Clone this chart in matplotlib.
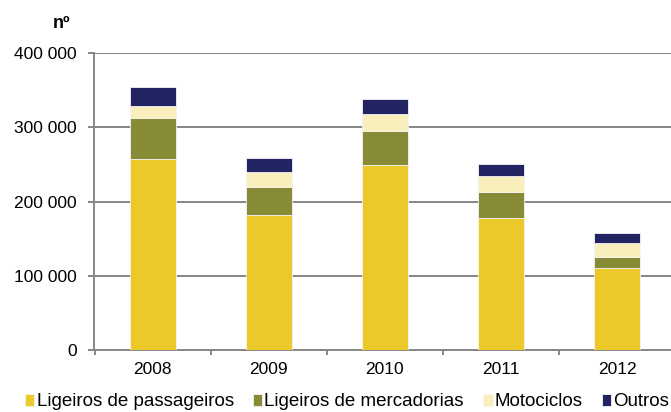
import numpy as np
import matplotlib.pyplot as plt
from matplotlib.ticker import FuncFormatter, FixedLocator

plt.rcParams['font.family'] = ['Liberation Sans', 'DejaVu Sans']

anos = ['2008', '2009', '2010', '2011', '2012']
passageiros = [257800, 181500, 249000, 178000, 111000]
mercadorias = [55200, 38200, 46000, 35000, 14700]
motociclos = [16000, 20200, 23500, 22000, 19000]
outros = [25800, 18900, 20500, 16000, 13300]

series = [
    ('Ligeiros de passageiros', passageiros, '#ecc92b'),
    ('Ligeiros de mercadorias', mercadorias, '#878b36'),
    ('Motociclos', motociclos, '#f8efbc'),
    ('Outros', outros, '#222362'),
]

fig = plt.figure(figsize=(6.71, 4.12), dpi=100)
ax = fig.add_axes([94.5 / 671, 1 - 350 / 412, (675 - 94.5) / 671, (350 - 53.3) / 412])

x = np.arange(len(anos))
base = np.zeros(len(anos))
handles = []
for nome, vals, cor in series:
    b = ax.bar(x, vals, 0.396, bottom=base, color=cor, edgecolor='#f4f4f4',
               linewidth=0.6, label=nome, zorder=3)
    handles.append(b)
    base += np.array(vals)

ax.set_xlim(-0.5, len(anos) - 0.5)
ax.set_ylim(0, 400000)
ax.set_yticks([0, 100000, 200000, 300000, 400000])
ax.yaxis.set_major_formatter(FuncFormatter(lambda v, p: f'{int(v):,}'.replace(',', ' ')))
ax.set_xticks(x)
ax.set_xticklabels(anos)
ax.xaxis.set_minor_locator(FixedLocator(np.arange(-0.5, len(anos), 1.0)))

ax.grid(axis='y', color='#868686', linewidth=1.4, zorder=0)
for s in ['top', 'right']:
    ax.spines[s].set_visible(False)
for s in ['left', 'bottom']:
    ax.spines[s].set_color('#868686')
    ax.spines[s].set_linewidth(1.4)

ax.tick_params(axis='y', length=4.3, width=1.4, color='#868686', pad=8.5, labelsize=12.5)
ax.tick_params(axis='x', which='major', length=0, pad=8.5, labelsize=12.5)
ax.tick_params(axis='x', which='minor', length=3.8, width=1.4, color='#868686')

fig.text(61 / 671, 1 - 24 / 412, 'nº', fontsize=13, fontweight='bold', ha='center', va='center')

fig.legend(handles=handles, loc='center left', bbox_to_anchor=(25 / 671, 1 - 402 / 412), ncol=4,
           frameon=False, fontsize=13.5, handlelength=0.5, handleheight=0.55,
           handletextpad=0.12, columnspacing=1.02, borderaxespad=0, borderpad=0)

fig.savefig('out.png', dpi=100)
